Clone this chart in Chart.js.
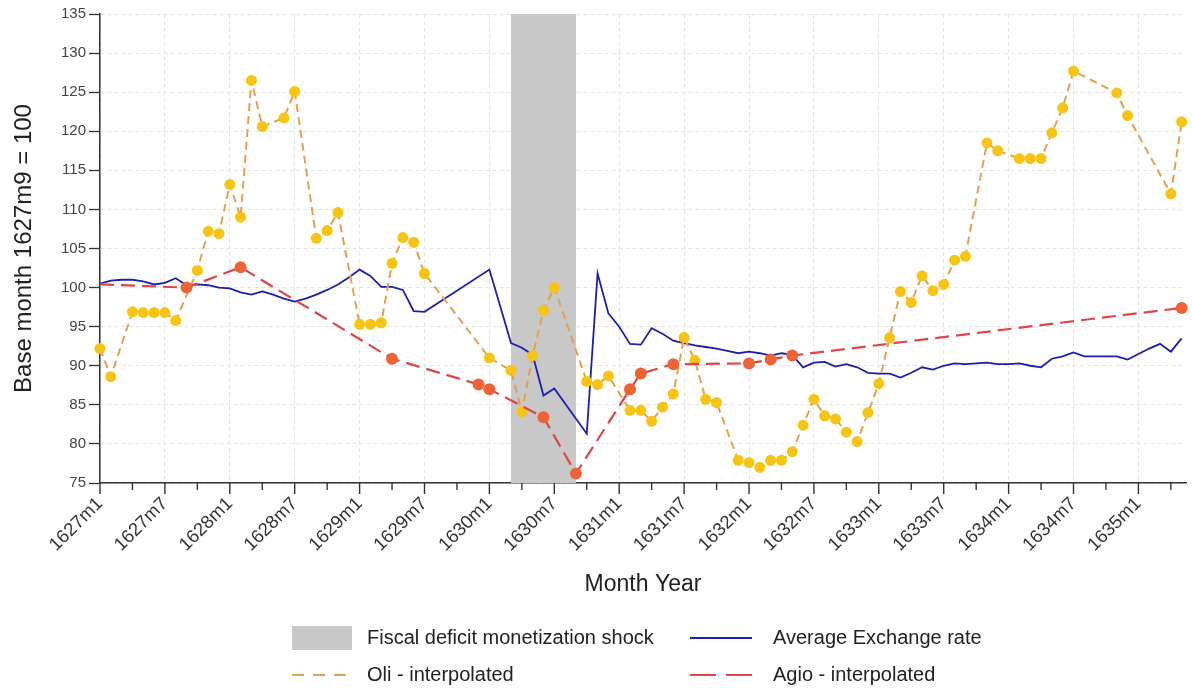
<!DOCTYPE html>
<html>
<head>
<meta charset="utf-8">
<title>Oli, Agio and exchange rate, 1627-1635</title>
<script src="https://cdn.jsdelivr.net/npm/chart.js@4.4.1/dist/chart.umd.min.js"></script>
<style>
  html, body { margin: 0; padding: 0; background: #fff; }
</style>
</head>
<body>
<canvas id="indexChart" width="1192" height="688"></canvas>
<script>
// month index 0 = 1627m1 ... 100 = 1635m5
var firstYear = 1627;
var monthLabels = [];
for (var i = 0; i <= 100; i++) {
    monthLabels.push((firstYear + Math.floor(i / 12)) + 'm' + (i % 12 + 1));
}

// Oli price index, observed months only (null = no observation)
var oliValues = [
    92.2, 88.6, null, 96.9, 96.8, 96.8, 96.8, 95.8, null, 102.2,
    107.2, 106.9, 113.2, 109.0, 126.5, 120.6, null, 121.7, 125.1, null,
    106.3, 107.3, 109.6, null, 95.3, 95.3, 95.5, 103.1, 106.4, 105.8,
    101.8, null, null, null, null, null, 91.0, null, 89.4, 84.1,
    91.3, 97.1, 100.0, null, null, 88.0, 87.6, 88.7, null, 84.3,
    84.3, 82.9, 84.7, 86.4, 93.6, 90.7, 85.7, 85.3, null, 77.9,
    77.6, 77.0, 77.9, 77.9, 79.0, 82.4, 85.7, 83.6, 83.2, 81.5,
    80.3, 84.0, 87.7, 93.6, 99.5, 98.1, 101.5, 99.6, 100.4, 103.5,
    104.0, null, 118.5, 117.5, null, 116.5, 116.5, 116.5, 119.8, 123.0,
    127.7, null, null, null, 124.9, 122.0, null, null, null, 112.0,
    121.2
];

// Agio, observed months only (first value only anchors the line)
var agioValues = [
    100.4, null, null, null, null, null, null, null, 100.0, null,
    null, null, null, 102.6, null, null, null, null, null, null,
    null, null, null, null, null, null, null, 90.9, null, null,
    null, null, null, null, null, 87.6, 87.0, null, null, null,
    null, 83.4, null, null, 76.2, null, null, null, null, 87.0,
    89.0, null, null, 90.2, null, null, null, null, null, null,
    90.3, null, 90.8, null, 91.3, null, null, null, null, null,
    null, null, null, null, null, null, null, null, null, null,
    null, null, null, null, null, null, null, null, null, null,
    null, null, null, null, null, null, null, null, null, null,
    97.4
];

// Average exchange rate
var exchangeValues = [
    100.5, 100.9, 101.0, 101.0, 100.8, 100.4, 100.6, 101.2, 100.3, 100.4,
    100.3, 100.0, 99.9, 99.4, 99.1, 99.5, 99.1, 98.6, 98.2, 98.6,
    99.1, 99.7, 100.4, 101.3, 102.3, 101.5, 100.1, 100.1, 99.7, 97.0,
    96.9, null, null, null, null, null, 102.3, null, 92.9, 92.3,
    91.4, 86.2, 87.1, null, null, 81.3, 101.8, 96.7, 95.0, 92.8,
    92.7, 94.8, 94.1, 93.2, 92.9, 92.6, 92.4, 92.2, 91.9, 91.6,
    91.8, 91.6, 91.3, 91.6, 91.4, 89.8, 90.4, 90.5, 89.9, 90.2,
    89.8, 89.1, 89.0, 89.0, 88.5, 89.1, 89.8, 89.5, 90.0, 90.3,
    90.2, 90.3, 90.4, 90.2, 90.2, 90.3, 90.0, 89.8, 90.9, 91.2,
    91.7, 91.2, 91.2, 91.2, 91.2, 90.8, 91.5, 92.2, 92.8, 91.8,
    93.5
];

// shock window 1630m3 - 1630m9, full height of the value axis
var shockMonths = [38, 44];
var valueRange = [75, 135];

function toPoints(values) {
    return values.map(function(v, idx) {
        return { x: idx, y: v };
    });
}

Chart.defaults.font.family = "'Liberation Sans', Arial, sans-serif";
Chart.defaults.color = '#333';

var gridColor = '#e4e4e4';
var axisColor = '#333';

// short/long tick marks on the month axis
var monthTickMarks = {
    id: 'monthTickMarks',
    afterDraw: function(chart) {
        var xs = chart.scales.x;
        var ctx = chart.ctx;
        ctx.save();
        ctx.strokeStyle = axisColor;
        ctx.lineWidth = 1.4;
        xs.ticks.forEach(function(t) {
            var px = xs.getPixelForValue(t.value);
            var len = t.value % 6 === 0 ? 11 : 7;
            ctx.beginPath();
            ctx.moveTo(px, xs.top);
            ctx.lineTo(px, xs.top + len);
            ctx.stroke();
        });
        ctx.restore();
    }
};

// two-column legend under the axis title
var gridLegend = {
    id: 'gridLegend',
    afterDraw: function(chart, args, opts) {
        var ctx = chart.ctx;
        ctx.save();
        ctx.font = opts.font;
        ctx.textBaseline = 'middle';
        opts.items.forEach(function(item) {
            var ds = chart.data.datasets[item.index];
            if (item.box) {
                ctx.fillStyle = ds.backgroundColor;
                ctx.fillRect(item.x, item.y - 12, item.w, 24);
            } else {
                ctx.strokeStyle = ds.borderColor;
                ctx.lineWidth = ds.borderWidth;
                ctx.setLineDash(item.dash || []);
                ctx.beginPath();
                ctx.moveTo(item.x, item.y);
                ctx.lineTo(item.x + item.w, item.y);
                ctx.stroke();
                ctx.setLineDash([]);
            }
            ctx.fillStyle = '#222';
            ctx.fillText(ds.label, item.tx, item.y);
        });
        ctx.restore();
    }
};

var ctx = document.getElementById('indexChart').getContext('2d');

new Chart(ctx, {
    type: 'line',
    data: {
        datasets: [
            {
                label: 'Agio - interpolated',
                data: toPoints(agioValues),
                borderColor: '#E04444',
                borderWidth: 2.2,
                borderDash: [14, 7],
                pointRadius: function(c) { return c.dataIndex === 0 ? 0 : 6; },
                pointBackgroundColor: '#EE6236',
                pointBorderWidth: 0,
                spanGaps: true,
                fill: false,
                clip: 8,
                order: 1
            },
            {
                label: 'Oli - interpolated',
                data: toPoints(oliValues),
                borderColor: '#E3A04F',
                borderWidth: 2,
                borderDash: [8, 5],
                pointRadius: 5.5,
                pointBackgroundColor: '#F7C414',
                pointBorderWidth: 0,
                spanGaps: true,
                fill: false,
                clip: 8,
                order: 2
            },
            {
                label: 'Average Exchange rate',
                data: toPoints(exchangeValues),
                borderColor: '#1E1EAE',
                borderWidth: 1.8,
                pointRadius: 0,
                spanGaps: true,
                fill: false,
                order: 3
            },
            {
                label: 'Fiscal deficit monetization shock',
                data: [
                    { x: shockMonths[0], y: valueRange[1] },
                    { x: shockMonths[1], y: valueRange[1] }
                ],
                borderWidth: 0,
                borderColor: 'rgba(0,0,0,0)',
                backgroundColor: '#C8C8C8',
                pointRadius: 0,
                fill: 'start',
                order: 4
            }
        ]
    },
    options: {
        responsive: false,
        animation: false,
        layout: {
            padding: { top: 14, right: 5, bottom: 88, left: 0 }
        },
        scales: {
            x: {
                type: 'linear',
                min: 0,
                max: 100.4,
                afterFit: function(scale) {
                    scale.height = 117;
                    scale.paddingLeft = 0;
                    scale.paddingRight = 0;
                },
                border: { display: true, color: axisColor, width: 1.5, dash: [4, 3] },
                grid: {
                    drawTicks: false,
                    color: function(c) {
                        return c.tick && c.tick.value % 6 === 0 ? gridColor : 'rgba(0,0,0,0)';
                    }
                },
                ticks: {
                    stepSize: 3,
                    includeBounds: false,
                    autoSkip: false,
                    maxRotation: 45,
                    minRotation: 45,
                    padding: 10,
                    color: '#333',
                    font: { size: 18.5 },
                    callback: function(v) {
                        return v % 6 === 0 ? monthLabels[v] : '';
                    }
                },
                title: {
                    display: true,
                    text: 'Month Year',
                    color: '#222',
                    font: { size: 23 },
                    padding: { top: 4, bottom: 2 }
                }
            },
            y: {
                min: valueRange[0],
                max: valueRange[1],
                afterFit: function(scale) { scale.width = 100; },
                border: { display: true, color: axisColor, width: 1.5, dash: [4, 3] },
                grid: {
                    color: gridColor,
                    tickBorderDash: [],
                    tickColor: axisColor,
                    tickLength: 11,
                    tickWidth: 1.3
                },
                ticks: {
                    stepSize: 5,
                    padding: 3,
                    color: '#444',
                    font: { size: 15 }
                },
                title: {
                    display: true,
                    text: 'Base month 1627m9 = 100',
                    color: '#222',
                    font: { size: 24 },
                    padding: { top: 10, bottom: 4 }
                }
            }
        },
        plugins: {
            legend: { display: false },
            tooltip: { enabled: false },
            gridLegend: {
                font: "20px 'Liberation Sans', Arial, sans-serif",
                items: [
                    { index: 3, box: true, x: 292, w: 60, y: 638, tx: 367 },
                    { index: 2, x: 690, w: 62, y: 638, tx: 773 },
                    { index: 1, x: 292, w: 60, y: 675, tx: 367, dash: [12, 9] },
                    { index: 0, x: 690, w: 62, y: 675, tx: 773, dash: [26, 10] }
                ]
            }
        }
    },
    plugins: [monthTickMarks, gridLegend]
});
</script>
</body>
</html>
